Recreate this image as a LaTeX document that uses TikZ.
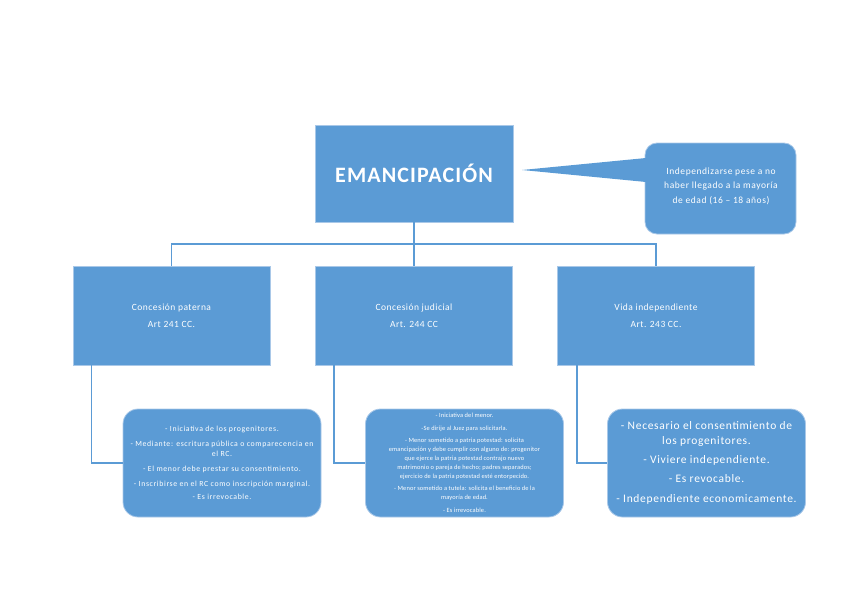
\documentclass[tikz,border=0pt]{standalone}
\usepackage{fontspec}
\setmainfont{Carlito}
\usetikzlibrary{calc}
\definecolor{boxblue}{HTML}{5B9BD5}
\definecolor{edgeblue}{HTML}{A9C8E8}
\definecolor{lineblue}{HTML}{5B9BD5}
\newcommand{\lsp}[1]{\addfontfeatures{LetterSpace=#1}}
\tikzset{
  sqbox/.style={fill=boxblue, draw=edgeblue, line width=0.8pt, text=white, align=center, inner sep=0pt},
  topbox/.style={sqbox, minimum width=198pt, minimum height=97pt, font=\fontsize{22}{24}\selectfont\bfseries\lsp{5}},
  midbox/.style={sqbox, minimum width=197pt, minimum height=99pt, font=\fontsize{9.5}{17}\selectfont\lsp{5}},
  rbox/.style={fill=boxblue, draw=edgeblue, line width=0.8pt, text=white, align=center, inner sep=0pt, rounded corners=15pt, minimum width=198pt, minimum height=108pt},
  conn/.style={draw=lineblue, line width=1.4pt},
}
\begin{document}
\begin{tikzpicture}[x=1pt,y=-1pt]
\useasboundingbox (0,0) rectangle (848,599);
% main box
\node[topbox] (em) at (414,173.5) {EMANCIPACIÓN};
% callout
\node[fill=boxblue, draw=edgeblue, line width=0.8pt, rounded corners=12pt, minimum width=151pt, minimum height=91pt, inner sep=0pt] (call) at (720.5,188.5) {};
\coordinate (tip) at (522,170);
\fill[boxblue] (tip) -- (646,158) -- (648,158) -- (648,182) -- (646,182) -- cycle;
\node[text=white, align=center, font=\fontsize{9.5}{14.5}\selectfont\lsp{6}] (calltext) at (721,186) {Independizarse pese a no\\haber llegado a la mayoría\\de edad (16 – 18 años)};
% second level
\node[midbox] (cp) at (171.5,315.5) {Concesión paterna\\Art 241 CC.};
\node[midbox] (cj) at (414,315.5) {Concesión judicial\\Art. 244 CC};
\node[midbox] (vi) at (656,315.5) {Vida independiente\\Art. 243 CC.};
\coordinate (bus) at (414,244);
\draw[conn] (em.south) -- (cj.north);
\draw[conn] (cp.north) |- (bus) -| (vi.north);
% detail boxes
\node[rbox, font=\fontsize{7.8}{10}\selectfont\lsp{8}] (da) at (222,463) {- Iniciativa de los progenitores.\\[4.5pt]
- Mediante: escritura pública o comparecencia en\\el RC.\\[5.5pt]
- El menor debe prestar su consentimiento.\\[5pt]
- Inscribirse en el RC como inscripción marginal.\\[3pt]
- Es irrevocable.};
\node[rbox, font=\fontsize{6.4}{9}\selectfont\lsp{2}] (db) at (464.5,463) {- Iniciativa del menor.\\[4pt]
-Se dirije al Juez para solicitarla.\\[3pt]
- Menor sometido a patria potestad: solicita\\emancipación y debe cumplir con alguno de: progenitor\\que ejerce la patria potestad contrajo nuevo\\matrimonio o pareja de hecho; padres separados;\\ejercicio de la patria potestad esté entorpecido.\\[3pt]
- Menor sometido a tutela: solicita el beneficio de la\\mayoría de edad.\\[4pt]
- Es irrevocable.};
\node[rbox, font=\fontsize{11.5}{15}\selectfont\lsp{6}] (dc) at (706.5,463) {- Necesario el consentimiento de\\los progenitores.\\[4pt]
- Viviere independiente.\\[4pt]
- Es revocable.\\[5pt]
- Independiente economicamente.};
\draw[conn] ($(cp.south west)+(19,0)$) |- (da.west);
\draw[conn] ($(cj.south west)+(19,0)$) |- (db.west);
\draw[conn] ($(vi.south west)+(20,0)$) |- (dc.west);
\end{tikzpicture}
\end{document}
